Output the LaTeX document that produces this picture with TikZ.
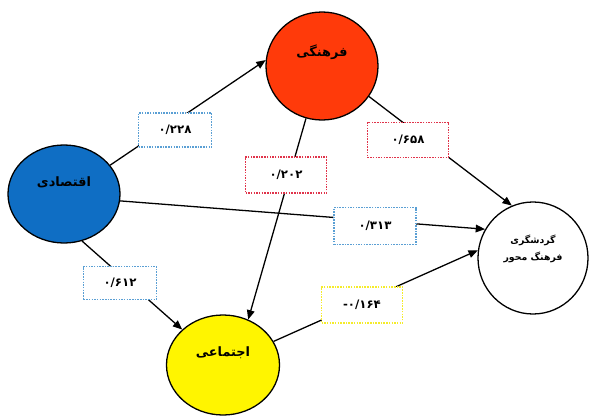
\documentclass[tikz,border=0pt]{standalone}
\usepackage{fontspec}
\usetikzlibrary{shapes.geometric,arrows.meta}
\TeXXeTstate=1
\newfontfamily\arabicfont[Script=Arabic]{DejaVu Sans}
\definecolor{cred}{HTML}{FF3A0A}
\definecolor{cblue}{HTML}{0F6EC4}
\definecolor{cyellow}{HTML}{FFF500}
\definecolor{bblue}{HTML}{5A9FD4}
\definecolor{bred}{HTML}{E0334A}
\definecolor{byellow}{HTML}{F5EC2A}
\begin{document}
\begin{tikzpicture}[x=0.03cm,y=-0.03cm,
  factor/.style={ellipse,draw=black,line width=1.1pt,inner sep=0pt},
  vlabel/.style={font=\arabicfont\bfseries\fontsize{11}{13}\selectfont},
  coef/.style={draw,fill=white,densely dotted,line width=1.3pt,inner sep=0pt,
     font=\arabicfont\bfseries\fontsize{10}{12}\selectfont},
  link/.style={line width=1.1pt,-{Triangle[length=8pt,width=6.5pt]}}]
\useasboundingbox (0,0) rectangle (589,416);
% factors
\node[factor,fill=cred,minimum width=3.36cm,minimum height=3.24cm] (farh) at (322,66) {};
\node[factor,fill=cblue,minimum width=3.36cm,minimum height=2.94cm] (eqt) at (64,194) {};
\node[factor,fill=cyellow,minimum width=3.39cm,minimum height=3.0cm] (ejt) at (223,365) {};
\node[factor,fill=white,minimum width=3.3cm,minimum height=3.36cm] (gard) at (533,258) {};
% links
\draw[link] (eqt.32) -- (farh.174);
\draw[link] (farh.253) -- (ejt.61);
\draw[link] (farh.-33) -- (gard.112);
\draw[link] (eqt.-7) -- (gard.149);
\draw[link] (eqt.-69) -- (ejt.139);
\draw[link] (ejt.25) -- (gard.172);
% labels of factors
\node[vlabel] (tfarh) at (322,52) {\beginR فرهنگی\endR};
\node[vlabel] (teqt) at (64,182) {\beginR اقتصادی\endR};
\node[vlabel] (tejt) at (223,353) {\beginR اجتماعی\endR};
\node[align=center,font=\arabicfont\bfseries\fontsize{8}{14}\selectfont] (tgard) at (533,249) {\beginR گردشگری\endR\\\beginR فرهنگ محور\endR};
% coefficients
\node[coef,draw=bblue,minimum width=2.19cm,minimum height=1.02cm] (c1) at (175,130) {۰/۲۲۸};
\node[coef,draw=bred,minimum width=2.43cm,minimum height=1.08cm] (c2) at (286,175) {۰/۲۰۲};
\node[coef,draw=bred,minimum width=2.43cm,minimum height=1.05cm] (c3) at (408,140) {۰/۶۵۸};
\node[coef,draw=bblue,minimum width=2.46cm,minimum height=1.11cm] (c4) at (375,226) {۰/۳۱۳};
\node[coef,draw=bblue,minimum width=2.19cm,minimum height=0.99cm] (c5) at (120,283) {۰/۶۱۲};
\node[coef,draw=byellow,minimum width=2.43cm,minimum height=1.08cm] (c6) at (362,305) {\hbox{-}۰/۱۶۴};
\end{tikzpicture}
\end{document}
